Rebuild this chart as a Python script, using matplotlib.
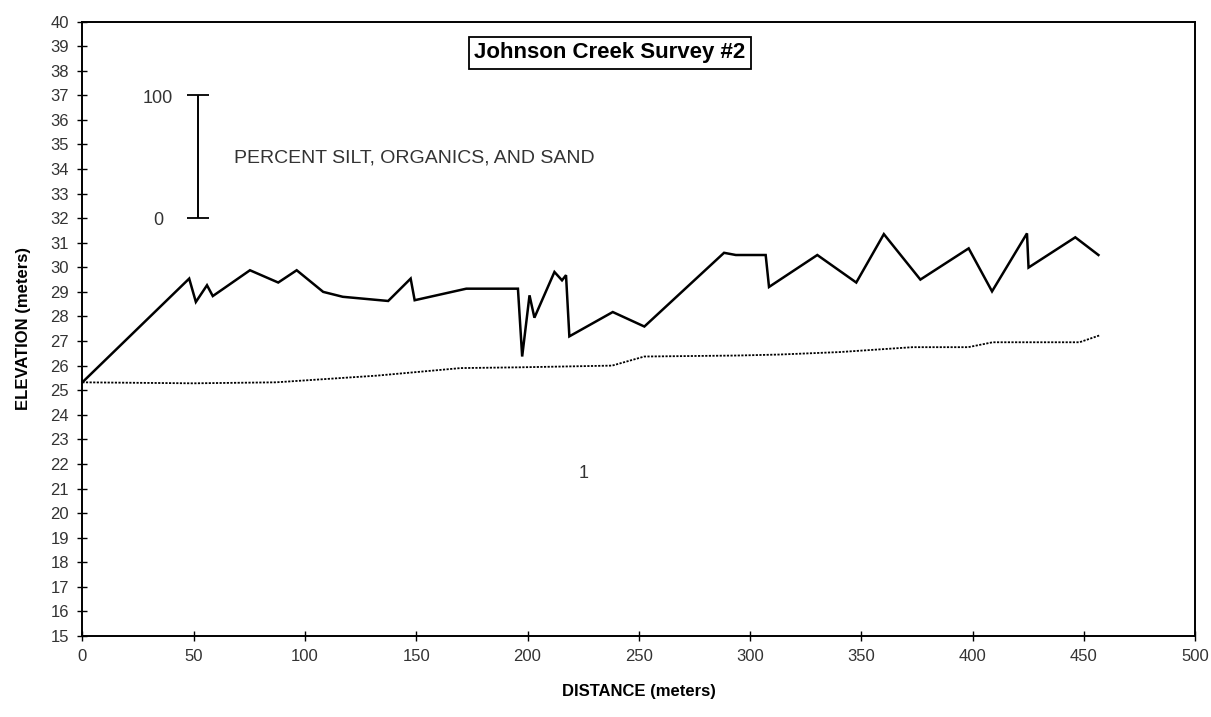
import matplotlib
matplotlib.use("Agg")
import matplotlib.pyplot as plt

plt.rcParams['font.family'] = ['Liberation Sans', 'DejaVu Sans']

# Top line: ground surface profile
top_dist = [0, 48, 51, 56, 58.6, 63.4, 75.3, 88, 96.3, 108.2, 117, 137.4, 147.5,
            149.3, 172.5, 195.7, 197.6, 200.9, 203.1, 212.1, 215.5, 217.3, 218.8,
            238.3, 252.5, 288.3, 293.6, 307, 308.5, 330.2, 347.7, 360.1, 376.5,
            398.2, 408.7, 424.4, 425.1, 446.1, 456.5]
top_elev = [25.32, 29.54, 28.59, 29.27, 28.83, 29.13, 29.88, 29.38, 29.88, 29.0, 28.8,
            28.63, 29.54, 28.66, 29.13, 29.13, 26.37, 28.86, 27.95, 29.81, 29.47,
            29.68, 27.19, 28.18, 27.59, 30.59, 30.5, 30.5, 29.2, 30.5, 29.38, 31.35,
            29.5, 30.77, 29.02, 31.38, 29.99, 31.22, 30.5]

# Bottom line: lower profile
low_dist = [0, 50, 87, 132, 170, 196, 238, 252.5, 294, 313, 340, 373, 398, 409, 448, 457]
low_elev = [25.32, 25.28, 25.32, 25.59, 25.9, 25.93, 26.0, 26.37, 26.41, 26.45,
            26.55, 26.75, 26.75, 26.95, 26.95, 27.23]

x_ticks = list(range(0, 501, 50))
y_ticks = list(range(15, 41, 1))

fig = plt.figure(figsize=(12.11, 7.17), dpi=100)
ax = fig.add_axes([0.068, 0.113, 0.919, 0.857])

ax.plot(top_dist, top_elev, color='black', lw=1.8, solid_joinstyle='miter')
ax.plot(low_dist, low_elev, color='black', lw=1.3, linestyle=(0, (1.2, 0.8)))

ax.set_xlim(0, 500)
ax.set_ylim(15, 40)
ax.set_xticks(x_ticks)
ax.set_yticks(y_ticks)
ax.tick_params(direction='inout', length=7, width=1.0, labelsize=12, pad=6,
               colors='black', labelcolor='#333333')
for s in ax.spines.values():
    s.set_linewidth(1.4)

ax.set_xlabel('DISTANCE (meters)', fontsize=12, fontweight='bold', labelpad=14)
ax.set_ylabel('ELEVATION (meters)', fontsize=12, fontweight='bold', labelpad=14)

# Title box
ax.text(237, 38.73, 'Johnson Creek Survey #2', fontsize=16, fontweight='bold',
        ha='center', va='center',
        bbox=dict(boxstyle='square,pad=0.25', fc='white', ec='black', lw=1.3))

# Scale bar
ax.errorbar([52], [34.5], yerr=[[2.5], [2.5]], color='black', lw=1.4, capsize=8,
            capthick=1.3)
ax.text(34, 36.85, '100', fontsize=13, ha='center', va='center', color='#333333')
ax.text(34, 31.9, '0', fontsize=13, ha='center', va='center', color='#333333')
ax.text(68, 34.45, 'PERCENT SILT, ORGANICS, AND SAND', fontsize=14, ha='left',
        va='center', color='#333333')

ax.text(225, 21.6, '1', fontsize=13, ha='center', va='center', color='#333333')

fig.savefig('out.png', dpi=100)
